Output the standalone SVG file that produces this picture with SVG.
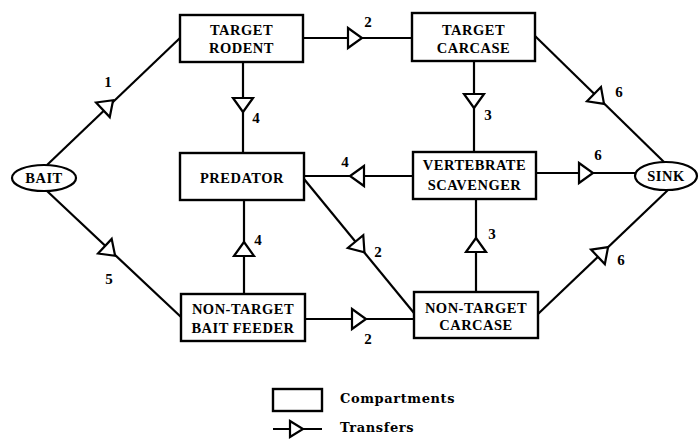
<svg xmlns="http://www.w3.org/2000/svg" xmlns:xlink="http://www.w3.org/1999/xlink" width="699" height="440" viewBox="0 0 699 440">
<style>
.box{fill:#fff;stroke:#000;stroke-width:2.4}
.ell{fill:#fff;stroke:#000;stroke-width:2.2}
.ln{fill:none;stroke:#000;stroke-width:2.2}
.tri{fill:#fff;stroke:#000;stroke-width:2.2;stroke-linejoin:miter}
.t{font-family:"Liberation Serif","Times New Roman",serif;font-weight:bold;font-size:14.5px;text-anchor:middle;letter-spacing:0.5px}
.n{font-family:"Liberation Serif","Times New Roman",serif;font-weight:bold;font-size:15px;text-anchor:middle}
.lg{font-family:"DejaVu Serif","Liberation Serif",serif;font-weight:bold;font-size:13px;letter-spacing:0.6px}
</style>
<defs>
<path id="tri" class="tri" d="M-7,-10 L7,0 L-7,10 Z"/>
</defs>
<rect width="699" height="440" fill="#fff"/>
<g id="connectors">
<line class="ln" x1="47" y1="165" x2="180" y2="38"/>
<line class="ln" x1="47" y1="191" x2="181" y2="317"/>
<line class="ln" x1="243" y1="62" x2="243" y2="153"/>
<line class="ln" x1="303" y1="38" x2="412" y2="38"/>
<line class="ln" x1="474" y1="61" x2="474" y2="152"/>
<line class="ln" x1="535" y1="36" x2="665" y2="163"/>
<line class="ln" x1="536" y1="173" x2="635" y2="173"/>
<line class="ln" x1="413" y1="176" x2="304" y2="176"/>
<line class="ln" x1="304" y1="179" x2="414" y2="313"/>
<line class="ln" x1="244" y1="294" x2="244" y2="200"/>
<line class="ln" x1="305" y1="319" x2="414" y2="319"/>
<line class="ln" x1="476" y1="292" x2="476" y2="199"/>
<line class="ln" x1="538" y1="314" x2="668" y2="190"/>
<use href="#tri" transform="translate(108,105) rotate(-43.2)"/>
<use href="#tri" transform="translate(110,251) rotate(43)"/>
<use href="#tri" transform="translate(243,105) rotate(90)"/>
<use href="#tri" transform="translate(355,38)"/>
<use href="#tri" transform="translate(474,101) rotate(90)"/>
<use href="#tri" transform="translate(599,99) rotate(44.3)"/>
<use href="#tri" transform="translate(586,173)"/>
<use href="#tri" transform="translate(357,176) rotate(180)"/>
<use href="#tri" transform="translate(360,247) rotate(50.6)"/>
<use href="#tri" transform="translate(244,249) rotate(-90)"/>
<use href="#tri" transform="translate(359,319)"/>
<use href="#tri" transform="translate(476,245) rotate(-90)"/>
<use href="#tri" transform="translate(603,252) rotate(-43.6)"/>
<text class="n" x="108" y="87">1</text>
<text class="n" x="109" y="284">5</text>
<text class="n" x="256" y="123">4</text>
<text class="n" x="368" y="27">2</text>
<text class="n" x="488" y="120">3</text>
<text class="n" x="619" y="97">6</text>
<text class="n" x="598" y="160">6</text>
<text class="n" x="345" y="167">4</text>
<text class="n" x="378" y="257">2</text>
<text class="n" x="258" y="245">4</text>
<text class="n" x="368" y="344">2</text>
<text class="n" x="492" y="239">3</text>
<text class="n" x="621" y="265">6</text>
</g>
<g id="bait">
<ellipse class="ell" cx="44" cy="178" rx="32" ry="13"/>
<text class="t" x="44" y="183">BAIT</text>
</g>
<g id="sink">
<ellipse class="ell" cx="666" cy="176" rx="31" ry="14"/>
<text class="t" x="666" y="181">SINK</text>
</g>
<g id="target-rodent">
<rect class="box" x="180" y="15" width="123" height="47"/>
<text class="t" x="241.5" y="35">TARGET</text>
<text class="t" x="241.5" y="53">RODENT</text>
</g>
<g id="target-carcase">
<rect class="box" x="412" y="13" width="123" height="48"/>
<text class="t" x="473.5" y="35">TARGET</text>
<text class="t" x="473.5" y="53">CARCASE</text>
</g>
<g id="predator">
<rect class="box" x="180" y="153" width="124" height="47"/>
<text class="t" x="242" y="183">PREDATOR</text>
</g>
<g id="vertebrate-scavenger">
<rect class="box" x="413" y="152" width="123" height="47"/>
<text class="t" x="474.5" y="170">VERTEBRATE</text>
<text class="t" x="474.5" y="190">SCAVENGER</text>
</g>
<g id="non-target-bait-feeder">
<rect class="box" x="181" y="294" width="124" height="47"/>
<text class="t" x="243" y="314">NON-TARGET</text>
<text class="t" x="243" y="333">BAIT FEEDER</text>
</g>
<g id="non-target-carcase">
<rect class="box" x="414" y="292" width="124" height="46"/>
<text class="t" x="476" y="313">NON-TARGET</text>
<text class="t" x="476" y="330">CARCASE</text>
</g>
<g id="legend">
<rect class="box" x="273" y="389" width="49" height="22"/>
<text class="lg" x="340" y="403">Compartments</text>
<line class="ln" x1="273" y1="429" x2="322" y2="429"/>
<path class="tri" d="M290,421 L303,429 L290,437 Z"/>
<text class="lg" x="340" y="432">Transfers</text>
</g>
</svg>
